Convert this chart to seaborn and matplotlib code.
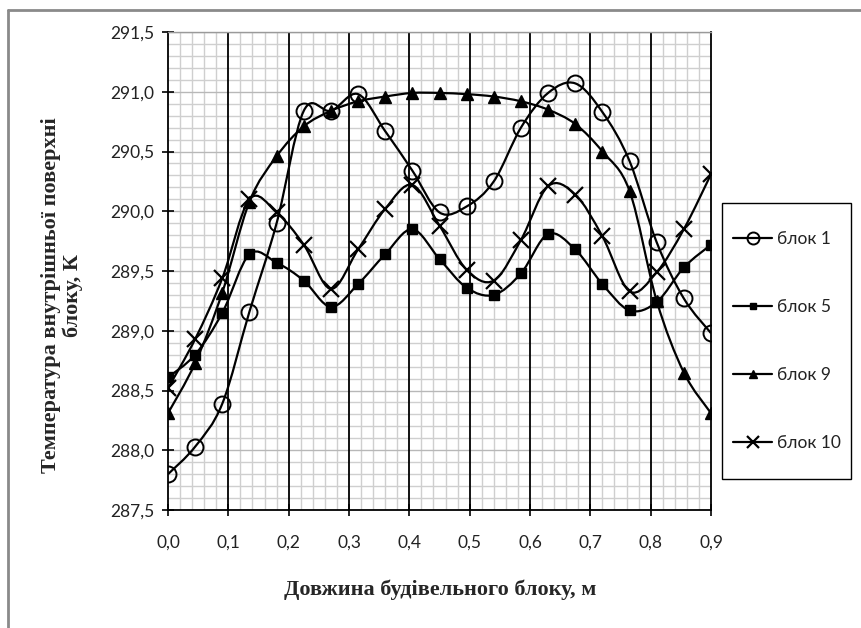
import matplotlib
matplotlib.use("Agg")
import matplotlib.pyplot as plt
import seaborn as sns
import numpy as np
import pandas as pd
from matplotlib.path import Path
from matplotlib.patches import PathPatch, Rectangle
from matplotlib.lines import Line2D
from matplotlib.ticker import MultipleLocator, FuncFormatter

# Дані
dovzhyna = [0.0, 0.045, 0.09, 0.135, 0.18, 0.225, 0.27, 0.315, 0.36, 0.405, 0.45,
            0.495, 0.54, 0.585, 0.63, 0.675, 0.72, 0.765, 0.81, 0.855, 0.9]
blok_1 = [287.80, 288.03, 288.39, 289.16, 289.90, 290.84, 290.84, 290.98, 290.67, 290.34, 289.99,
          290.04, 290.25, 290.70, 290.99, 291.07, 290.83, 290.42, 289.74, 289.27, 288.98]
blok_5 = [288.61, 288.80, 289.15, 289.64, 289.57, 289.42, 289.20, 289.39, 289.64, 289.85, 289.60,
          289.36, 289.30, 289.48, 289.81, 289.68, 289.39, 289.17, 289.24, 289.53, 289.72]
blok_9 = [288.31, 288.73, 289.32, 290.08, 290.46, 290.71, 290.84, 290.92, 290.96, 290.99, 290.99,
          290.98, 290.96, 290.92, 290.85, 290.73, 290.50, 290.17, 289.25, 288.65, 288.31]
blok_10 = [288.52, 288.93, 289.44, 290.10, 289.99, 289.72, 289.35, 289.68, 290.02, 290.22, 289.88,
           289.51, 289.42, 289.76, 290.21, 290.14, 289.79, 289.33, 289.49, 289.85, 290.31]
nazvy = ['блок 1', 'блок 5', 'блок 9', 'блок 10']

df = pd.DataFrame({'x': dovzhyna, 'блок 1': blok_1, 'блок 5': blok_5,
                   'блок 9': blok_9, 'блок 10': blok_10})

stili = {
    'блок 1': dict(marker='o', markersize=11.5, mfc='none', mec='black', mew=1.4),
    'блок 5': dict(marker='s', markersize=6.5, mfc='black', mec='black', mew=1),
    'блок 9': dict(marker='^', markersize=8, mfc='black', mec='black', mew=1),
    'блок 10': dict(marker='x', markersize=11, mfc='black', mec='black', mew=1.6),
}


def gladka_liniya(x, y):
    """Згладжена крива як в Excel (Catmull-Rom через криві Безьє)."""
    p = np.column_stack([x, y])
    verts = [p[0]]
    codes = [Path.MOVETO]
    n = len(p)
    for i in range(n - 1):
        p0 = p[i - 1] if i > 0 else p[i]
        p3 = p[i + 2] if i + 2 < n else p[i + 1]
        c1 = p[i] + (p[i + 1] - p0) / 6
        c2 = p[i + 1] - (p3 - p[i]) / 6
        verts += [c1, c2, p[i + 1]]
        codes += [Path.CURVE4] * 3
    return Path(verts, codes)


sns.set_style("white")
plt.rcParams['font.family'] = ['Lato', 'DejaVu Sans']

fig = plt.figure(figsize=(8.61, 6.28), dpi=100)
ax = fig.add_axes([168 / 861, 1 - 510 / 628, 543 / 861, 478 / 628])

# Сітка
ax.set_xlim(0, 0.9)
ax.set_ylim(287.5, 291.5)
ax.xaxis.set_major_locator(MultipleLocator(0.1))
ax.xaxis.set_minor_locator(MultipleLocator(0.02))
ax.yaxis.set_major_locator(MultipleLocator(0.5))
ax.yaxis.set_minor_locator(MultipleLocator(0.1))
ax.grid(which='minor', color='#cfcfcf', linewidth=1.0)
ax.grid(which='major', axis='y', color='#b8b8b8', linewidth=1.0)
ax.set_axisbelow(True)
# основні вертикальні лінії сітки поверх сірої
for xt in ax.get_xticks():
    if 0 < xt < 0.9:
        ax.axvline(xt, color='black', linewidth=1.3, zorder=1.5)

for nazva in nazvy:
    ax.add_patch(PathPatch(gladka_liniya(df['x'], df[nazva]), facecolor='none',
                           edgecolor='black', linewidth=1.6, zorder=3))
    sns.lineplot(data=df, x='x', y=nazva, ax=ax, color='black', linestyle='none',
                 zorder=4, **stili[nazva])

ax.xaxis.set_major_formatter(FuncFormatter(lambda v, p: f'{v:.1f}'.replace('.', ',')))
ax.yaxis.set_major_formatter(FuncFormatter(lambda v, p: f'{v:.1f}'.replace('.', ',')))
ax.tick_params(which='major', direction='inout', length=8, width=1.2, color='black',
               labelsize=12.5, labelcolor='#222222', left=True, bottom=True, pad=6)
ax.tick_params(axis='x', pad=14)
ax.tick_params(which='minor', length=0)

for s in ['left', 'bottom', 'right']:
    ax.spines[s].set_color('black')
    ax.spines[s].set_linewidth(1.3)
ax.spines['top'].set_color('#9a9a9a')
ax.spines['top'].set_linewidth(1.0)

ax.set_xlabel('')
ax.set_ylabel('')
fig.text(440 / 861, 1 - 590 / 628, 'Довжина будівельного блоку, м', ha='center', va='center',
         fontsize=16, fontweight='bold', family=['Liberation Serif'])
fig.text(62 / 861, 1 - 295 / 628, 'Температура внутрішньої поверхні\nблоку, К', ha='center',
         va='center', rotation=90, fontsize=16, fontweight='bold', linespacing=1.1,
         family=['Liberation Serif'])

# Легенда: рамка окремо, записи без рамки
fig.add_artist(Rectangle((722 / 861, 1 - 479 / 628), 129 / 861, 276 / 628, transform=fig.transFigure,
                         facecolor='white', edgecolor='black', linewidth=1.0))
ruchky = [Line2D([0], [0], color='black', linewidth=1.6, **stili[n]) for n in nazvy]
leg = fig.legend(ruchky, nazvy, loc='upper left', bbox_to_anchor=(733 / 861, 1 - 231 / 628),
                 frameon=False, fontsize=12.5, labelspacing=3.0, borderpad=0,
                 handlelength=2.25, handletextpad=0.3, borderaxespad=0, markerscale=0.75)
for t in leg.get_texts():
    t.set_color('#222222')

# Рамка рисунка
fig.add_artist(Line2D([8 / 861, 8 / 861], [0, 1 - 10 / 628], color='#8a8a8a', linewidth=2))
fig.add_artist(Line2D([8 / 861, 1], [1 - 10 / 628, 1 - 10 / 628], color='#8a8a8a', linewidth=2))

fig.savefig('out.png', dpi=100)
plt.close(fig)
